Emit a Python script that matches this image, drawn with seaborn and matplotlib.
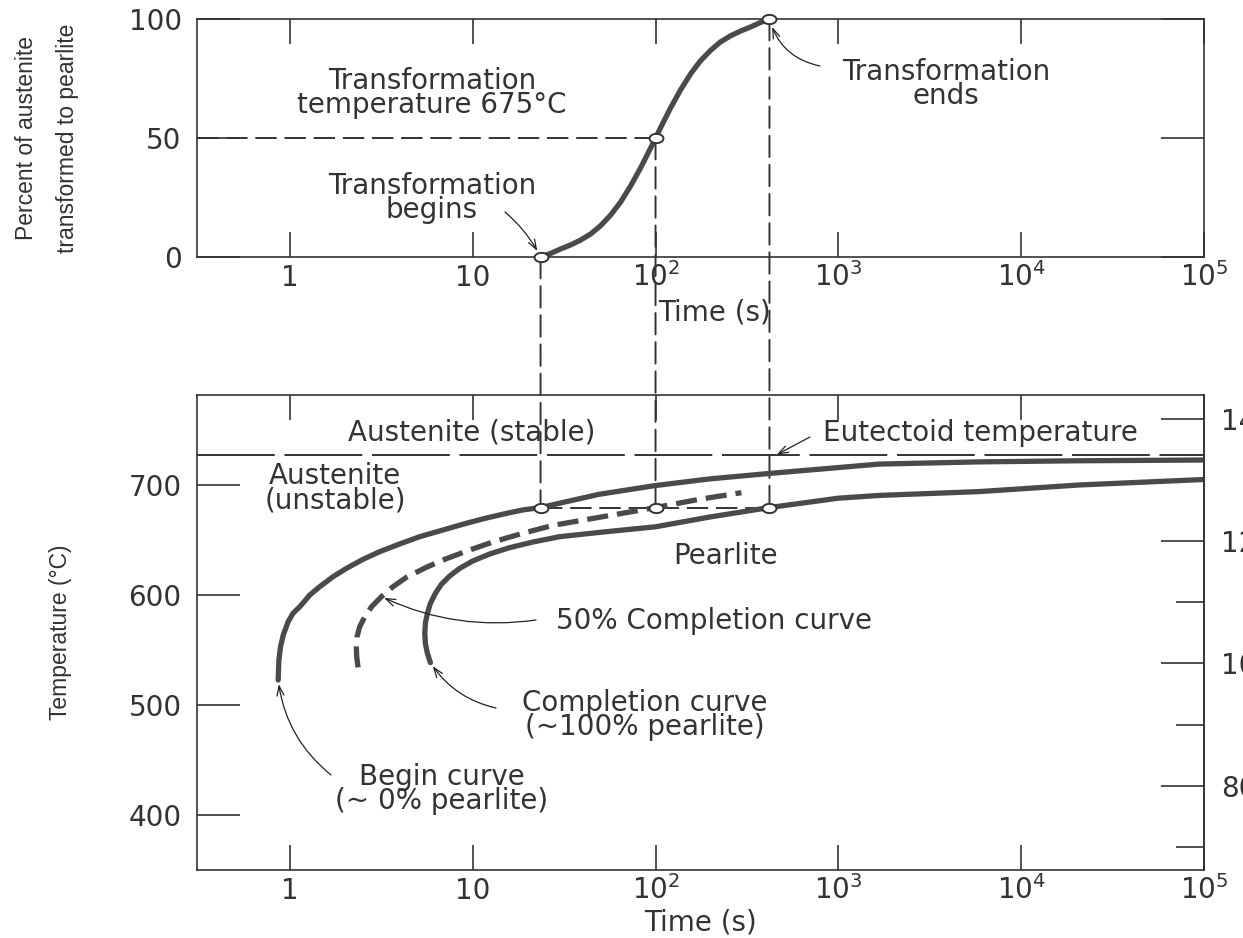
import numpy as np
import matplotlib
matplotlib.use("Agg")
import matplotlib.pyplot as plt
import seaborn as sns
from matplotlib.patches import ConnectionPatch
from matplotlib.path import Path
from matplotlib.ticker import FixedLocator, NullLocator

# ---------------- data ----------------
# upper panel: percent of austenite transformed to pearlite at 675 C
pct_time = [23.5, 26.7, 30.3, 34.4, 38.9, 44.2, 50.0, 56.8, 64.4, 73.0, 82.8, 93.9,
            100, 106.5, 120.8, 137, 155.4, 176, 200, 226, 257, 291, 330, 374, 420]
pct_value = [0, 1.5, 3.4, 5.1, 7.1, 9.7, 13.1, 17.6, 23.1, 29.8, 37.4, 45.7,
             50, 54.3, 62.6, 70.2, 76.9, 82.4, 86.8, 90.3, 92.9, 94.9, 96.6, 98.5, 100]

# lower panel: isothermal transformation curves (time in s, temperature in C)
begin_time = [0.863, 0.871, 0.889, 0.920, 0.979, 1.04, 1.134, 1.286, 1.458, 1.725,
              2.04, 2.51, 3.10, 3.99, 5.13, 6.88, 9.24, 11.9, 15.3, 18.8, 23.5,
              49, 100, 197, 420, 1670, 5900, 20000, 1e5]
begin_temp = [522.7, 540.9, 553, 563.6, 575.8, 583.3, 589.4, 600, 607.6, 616.7,
              624.2, 632.4, 639.4, 646.4, 653, 659.1, 665.2, 670, 674.2, 677.3, 679.5,
              691.5, 699.5, 705.5, 710.5, 719, 721, 722, 722.7]

half_time = [2.36, 2.32, 2.31, 2.33, 2.41, 2.57, 2.80, 3.17, 3.67, 4.34, 5.58, 7.18,
             9.63, 12.9, 18.8, 27.5, 100, 174, 295]
half_temp = [534.2, 544, 553, 562, 571.2, 580.3, 589.4, 598.5, 607.6, 616.1, 625.2, 633,
             640.9, 648.2, 656.1, 663.3, 679.5, 687, 693]

end_time = [5.87, 5.65, 5.51, 5.47, 5.51, 5.65, 5.87, 6.25, 6.74, 7.49, 8.49, 10.0,
            12.4, 15.9, 21.4, 29.9, 50, 100, 200, 420, 1000, 1670, 5900, 20750, 1e5]
end_temp = [538.5, 547, 556, 565, 574.3, 583.3, 592.4, 601.5, 609.7, 617.3, 624.2, 630.9,
            637.3, 643, 648.2, 653, 657, 662, 671, 679.5, 688, 690.5, 694, 700, 705]

# transformation points (begin, 50 %, end) at the transformation temperature
mark_time = [23.5, 100, 420]
mark_pct = [0, 50, 100]
mark_temp = 679.5
eutectoid_temp = 727

time_ticks = [1, 10, 100, 1000, 10000, 100000]
time_labels = ["1", "10", "$10^2$", "$10^3$", "$10^4$", "$10^5$"]
pct_ticks = [0, 50, 100]
temp_ticks = [400, 500, 600, 700]
temp_f_major = [800, 1000, 1200, 1400]
temp_f_minor = [700, 900, 1100, 1300]

# ---------------- style ----------------
sns.set_style("white")
plt.rcParams["font.family"] = ["DejaVu Sans"]
plt.rcParams["mathtext.fontset"] = "dejavusans"

TXT = "#333333"
CURVE = "#4a4a4a"
LINE = "#333333"
FS = 20
LABEL_FONT = ["Liberation Sans Narrow", "Liberation Sans", "DejaVu Sans"]

W, H = 1243, 938
fig = plt.figure(figsize=(W / 100, H / 100), dpi=100)
fig.patch.set_facecolor("white")


def fx(px):
    return px / W


def fy(py):
    return 1 - py / H


ax1 = fig.add_axes([fx(197), fy(257), fx(1204) - fx(197), fy(19) - fy(257)])
ax2 = fig.add_axes([fx(197), fy(870), fx(1204) - fx(197), fy(395) - fy(870)])

for ax in (ax1, ax2):
    ax.set_xscale("log")
    ax.set_facecolor("none")

# ---------------- curves ----------------
sns.lineplot(x=pct_time, y=pct_value, ax=ax1, color=CURVE, lw=3.8,
             sort=False, estimator=None, legend=False)
sns.lineplot(x=begin_time, y=begin_temp, ax=ax2, color=CURVE, lw=3.8,
             sort=False, estimator=None, legend=False)
sns.lineplot(x=end_time, y=end_temp, ax=ax2, color=CURVE, lw=3.8,
             sort=False, estimator=None, legend=False)
sns.lineplot(x=half_time, y=half_temp, ax=ax2, color=CURVE, lw=3.8,
             linestyle=(0, (4, 1.7)), sort=False, estimator=None, legend=False)

xlo = 10 ** -0.508
for ax in (ax1, ax2):
    ax.set_xlim(xlo, 1e5)
ax1.set_ylim(0, 100)
ax2.set_ylim(350, 781.8)

dash = (0, (11, 4))
# horizontal guide at 50 %
ax1.plot([xlo, mark_time[1]], [mark_pct[1], mark_pct[1]], color=LINE, lw=1.4, ls=dash, zorder=1)
# horizontal guide at transformation temperature
ax2.plot([mark_time[0], mark_time[-1]], [mark_temp, mark_temp], color=LINE, lw=1.4, ls=dash, zorder=1)
# eutectoid temperature
ax2.axhline(eutectoid_temp, color=LINE, lw=1.4, ls=(0, (40, 5)), zorder=1)

# vertical connectors between the two panels
for t, p in zip(mark_time, mark_pct):
    con = ConnectionPatch(xyA=(t, p), coordsA=ax1.transData,
                          xyB=(t, mark_temp), coordsB=ax2.transData,
                          color=LINE, lw=1.4, linestyle=dash,
                          shrinkA=0, shrinkB=0, zorder=-1, clip_on=False)
    fig.add_artist(con)

# open oval markers
th = np.linspace(0, 2 * np.pi, 60)
oval = Path(np.column_stack([1.5 * np.cos(th), np.sin(th)]), closed=True)
ax1.plot(mark_time, mark_pct, ls="none", marker=oval, ms=10, mfc="white",
         mec=LINE, mew=1.4, clip_on=False, zorder=6)
ax2.plot(mark_time, [mark_temp] * 3, ls="none", marker=oval, ms=10, mfc="white",
         mec=LINE, mew=1.4, clip_on=False, zorder=6)

# ---------------- axes / ticks ----------------
for ax in (ax1, ax2):
    for s in ax.spines.values():
        s.set_visible(True)
        s.set_color(LINE)
        s.set_linewidth(1.2)
    ax.set_xticks(time_ticks, time_labels)
    ax.xaxis.set_minor_locator(NullLocator())
    ax.tick_params(axis="x", which="major", direction="in", top=True, bottom=True,
                   length=18, width=1.2, color=LINE, labelsize=FS, labelcolor=TXT, pad=21)
    for lbl in ax.get_xticklabels():
        lbl.set_va("baseline")

ax1.set_yticks(pct_ticks)
ax1.tick_params(axis="y", direction="in", left=True, right=True, length=31, width=1.2,
                color=LINE, labelsize=FS, labelcolor=TXT, pad=11)
ax2.set_yticks(temp_ticks)
ax2.yaxis.set_minor_locator(NullLocator())
ax2.tick_params(axis="y", direction="in", left=True, right=False, length=31, width=1.2,
                color=LINE, labelsize=FS, labelcolor=TXT, pad=11)

sec = ax2.secondary_yaxis("right", functions=(lambda c: c * 9 / 5 + 32,
                                              lambda f: (f - 32) * 5 / 9))
sec.set_yticks(temp_f_major)
sec.yaxis.set_minor_locator(FixedLocator(temp_f_minor))
sec.tick_params(which="major", direction="in", length=31, width=1.2, color=LINE,
                labelsize=FS, labelcolor=TXT, pad=12)
sec.tick_params(which="minor", direction="in", length=20, width=1.2, color=LINE)
sec.spines["right"].set_color(LINE)
sec.spines["right"].set_linewidth(1.2)

# axis titles
fig.text(fx(47), fy(138), "Percent of austenite\ntransformed to pearlite", rotation=90,
         ha="center", va="center", fontsize=16.5, color=TXT, family=LABEL_FONT,
         linespacing=1.95)
fig.text(fx(61), fy(632), "Temperature (°C)", rotation=90, ha="center", va="center",
         fontsize=16.5, color=TXT, family=LABEL_FONT)
fig.text(fx(714), fy(312), "Time (s)", ha="center", va="center", fontsize=FS, color=TXT)
fig.text(fx(700), fy(922), "Time (s)", ha="center", va="center", fontsize=FS, color=TXT)

# ---------------- annotations ----------------
def label(px, py, s):
    fig.text(fx(px), fy(py), s, ha="center", va="center", fontsize=FS, color=TXT,
             linespacing=0.82)


def arrow(ax, xy, tail, rad, shrink=3):
    ax.annotate("", xy=xy, xycoords="data", xytext=(tail[0], H - tail[1]),
                textcoords="figure pixels", annotation_clip=False,
                arrowprops=dict(arrowstyle="->,head_length=0.7,head_width=0.25",
                                color="#222222", lw=0.9, shrinkA=0, shrinkB=shrink,
                                connectionstyle=f"arc3,rad={rad}"))


label(432, 93, "Transformation\ntemperature 675°C")
label(432, 198, "Transformation\nbegins")
label(946, 84, "Transformation\nends")
arrow(ax1, (mark_time[0], mark_pct[0]), (505, 212), -0.1, shrink=5)
arrow(ax1, (mark_time[2], mark_pct[2]), (820, 66), -0.3, shrink=6)

label(472, 433, "Austenite (stable)")
label(980, 433, "Eutectoid temperature")
arrow(ax2, (mark_time[2] * 1.08, eutectoid_temp), (810, 437), 0.0, shrink=1)
label(335, 488, "Austenite\n(unstable)")
label(726, 556, "Pearlite")
label(714, 621, "50% Completion curve")
arrow(ax2, (half_time[7], half_temp[7]), (536, 620), -0.15, shrink=2)
label(645, 715, "Completion curve\n(~100% pearlite)")
arrow(ax2, (end_time[0], end_temp[0]), (496, 708), -0.2, shrink=3)
label(442, 789, "Begin curve\n(~ 0% pearlite)")
arrow(ax2, (begin_time[0], begin_temp[0]), (331, 775), -0.2, shrink=3)

fig.savefig("out.png", dpi=100)
